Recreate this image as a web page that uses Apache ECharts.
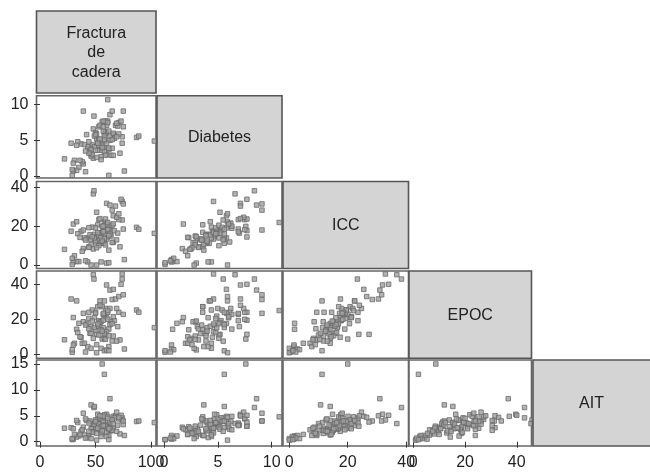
<!DOCTYPE html>
<html>
<head>
<meta charset="utf-8">
<script src="https://cdn.jsdelivr.net/npm/echarts@6/dist/echarts.min.js"></script>
<style>
html,body{margin:0;padding:0;background:#fff;}
#chart{width:650px;height:473px;}
</style>
</head>
<body>
<div id="chart"></div>
<script>
// ---- Data (one value per observation) ----
const varNames = ['Fractura\nde\ncadera', 'Diabetes', 'ICC', 'EPOC', 'AIT'];

const fractura = [74,48,48.6,74,60,63,66,28,58,65,68,54,52,59,47,63,56,61,50,44,71,60,53,58,49,64,42,55,39,67,35,33,57,46,52,70,62,56,59,51,37,45,60,66,53,48,38,55,31,43,30,29,62,58,72,58,40,65,50,54,44,57,75,69,60,46,51,103,61,46,49,53,55,57,52,58,61,50,56,63,47,59,54,65,44,62,51,57,66,41,34,36,87,89,73,71,30,33,22,69,76,29,41,62,75,39];
const diabetes = [4.6,6.6,8.4,5.5,7.1,8.6,5.8,4.6,5.9,9.1,7.1,4.2,3.6,6.2,4.4,5.0,3.6,7.7,6.1,3.6,7.5,6.0,6.9,4.9,4.1,2.9,5.8,2.7,1.7,5.3,1.2,0.8,4.0,3.1,4.7,7.0,6.3,7.6,7.7,5.2,4.5,3.9,4.6,2.9,5.1,2.5,2.0,4.4,2.2,4.1,0.7,0.1,3.7,5.6,3.2,5.1,4.4,3.9,3.6,5.2,4.8,6.3,6.9,7.4,3.0,2.8,5.9,4.9,10.7,3.7,5.6,4.3,2.3,7.7,4.6,3.4,7.5,5.8,4.0,5.6,3.0,2.9,7.1,5.1,3.2,3.9,2.6,6.9,6.0,3.5,4.8,2.2,5.4,5.6,7.7,5.9,1.8,4.3,2.4,5.5,0.7,0.9,0.6,0.1,9.1,9.1];
const icc = [32.9,36.8,38.4,23.3,31.9,31,25.5,17.5,22.3,28.4,30.5,11.2,20.8,21.7,19.6,17.9,16.9,14.5,11.9,9.4,23.5,20.8,23.5,17.6,15.9,15,14,11.6,8.5,17.7,1.8,1.8,11.4,13.1,14.8,16.5,19,20,23.8,27.3,17.4,15.7,13.4,11.7,10,8.3,7.1,1.6,4.8,1.6,1.6,0.3,7.7,11.2,9.4,14,14,11.7,12.6,16.5,19.3,20.1,18.6,24.7,1.0,0,0,16.4,22,10.7,14,15.5,14.2,17.8,16.8,13.6,18.3,19.2,12.4,16,14.7,10.4,24,20.6,9.1,15.2,8.9,17.2,21.3,12.9,16.2,14.3,19.5,18.5,34,26.5,21.2,22.4,8.1,13,2.8,3.5,2.2,1.2,31.6,18.1];
const epoc = [45.9,45.5,43,43,39.6,36.7,37.1,31.6,30.5,31.3,31.6,30.5,27.2,26.2,25.3,26.2,27.2,24,24,24,24,20.9,19.2,21.8,20.9,18.6,17.6,18.6,18.6,19.2,17.7,14.3,15.2,15.8,16.4,15.8,14.4,8.7,11.4,11.4,9.7,12,12.9,10.4,11,9.1,6.3,3.4,6.3,4.4,5.3,1.1,4.4,2,8.2,9.1,6.3,7.6,13.9,18.2,20.5,22.8,22.8,26.2,2.5,3.4,0.9,15.2,25,12,15.3,16,14,19.5,17.3,11.8,20,23.5,13.2,17,19,8.5,28,17.5,14.6,10.6,5.5,23.3,21.5,16.7,12.4,10,25.3,24,40,33,21,30.5,8.3,7.5,3,2.6,1.3,2,34,23.4];
const ait = [4.2,3.5,6.6,4.6,5.3,8.3,4.9,2.7,3.1,4.0,5.0,2.2,4.3,3.9,2.6,3.4,4.8,3.0,2.4,1.2,4.4,2.9,3.6,5.2,3.3,2.1,4.1,1.6,2.8,4.6,1.1,0.9,3.7,2.5,5.3,3.2,2.3,15,3.0,3.8,2.0,4.0,1.7,2.6,3.5,1.9,2.3,1.0,1.4,0.8,0.5,0.4,1.2,13,1.5,2.8,1.3,2.2,4.2,2.4,3.6,4.9,3.3,5.7,1.0,0.6,0.3,3.7,4.8,7.1,6.8,3.4,2.9,3.8,2.6,3.2,4.5,3.9,2.1,2.7,1.8,3.0,5.0,4.2,2.0,2.5,1.6,3.1,3.5,4.4,3.7,1.4,3.9,4.0,5.1,4.7,2.5,4.1,2.6,2.0,1.2,0.6,0.7,0.4,4.0,5.5];

// tick labels per variable
const ticksFractura = [0, 50, 100];
const ticksDiabetes = [0, 5, 10];
const ticksICC = [0, 20, 40];
const ticksEPOC = [0, 20, 40];
const ticksAIT = [0, 5, 10, 15];

// ---- Layout (pixels) ----
const vars = [fractura, diabetes, icc, epoc, ait];
const ticks = [ticksFractura, ticksDiabetes, ticksICC, ticksEPOC, ticksAIT];
const colL = [36.5, 157, 283, 409, 533];
const colR = [156, 282, 408.5, 531.5, 651];
const rowT = [11, 95.7, 181.5, 271, 360];
const rowB = [93, 178, 268.5, 358.3, 446];
// axis extents matching the reference scales
const xRange = [[-3.2, 104.5], [-0.65, 10.96], [-2.16, 40.8], [-1.66, 45.7]];
const yRange = [null, [-0.28, 11.26], [-1.8, 43.2], [-2.3, 47.6], [-0.83, 15.77]];

const FONT = 'Liberation Sans, Arial, sans-serif';
const grids = [], xAxes = [], yAxes = [], series = [], graphics = [];
let gi = 0;
for (let r = 1; r < 5; r++) {
  for (let c = 0; c < r; c++) {
    grids.push({
      left: colL[c], top: rowT[r],
      width: colR[c] - colL[c], height: rowB[r] - rowT[r],
      show: true, backgroundColor: '#fff', borderColor: '#666', borderWidth: 1.6,
      containLabel: false
    });
    const bottom = (r === 4);
    const leftCol = (c === 0);
    xAxes.push({
      type: 'value', gridIndex: gi, min: xRange[c][0], max: xRange[c][1],
      axisLine: {show: false}, splitLine: {show: false},
      axisTick: {show: bottom, length: 6, lineStyle: {color: '#333', width: 1}, customValues: ticks[c]},
      axisLabel: {show: bottom, customValues: ticks[c], margin: 9, fontSize: 16, color: '#222', fontFamily: FONT}
    });
    yAxes.push({
      type: 'value', gridIndex: gi, min: yRange[r][0], max: yRange[r][1],
      axisLine: {show: false}, splitLine: {show: false},
      axisTick: {show: leftCol, length: 6, lineStyle: {color: '#333', width: 1}, customValues: ticks[r]},
      axisLabel: {show: leftCol, customValues: ticks[r], margin: 8, fontSize: 16, color: '#222', fontFamily: FONT}
    });
    const pts = vars[c].map((v, i) => [v, vars[r][i]]);
    series.push({
      type: 'scatter', xAxisIndex: gi, yAxisIndex: gi, data: pts,
      symbol: 'rect', symbolSize: 4.5, clip: false,
      itemStyle: {color: '#a0a0a0', borderColor: '#6a6a6a', borderWidth: 1},
      silent: true, animation: false
    });
    gi++;
  }
}
for (let k = 0; k < 5; k++) {
  graphics.push({
    type: 'rect', shape: {x: colL[k], y: rowT[k], width: colR[k] - colL[k], height: rowB[k] - rowT[k]},
    style: {fill: '#d4d4d4', stroke: '#555', lineWidth: 1.6}, z: 10
  });
  graphics.push({
    type: 'text', x: (colL[k] + Math.min(colR[k], 650)) / 2, y: (rowT[k] + rowB[k]) / 2 + 1,
    style: {text: varNames[k], fill: '#222', font: '16px ' + FONT, align: 'center', verticalAlign: 'middle', lineHeight: 19.5},
    z: 11
  });
}

const chart = echarts.init(document.getElementById('chart'), null, {renderer: 'canvas'});
chart.setOption({
  animation: false,
  backgroundColor: '#fff',
  grid: grids, xAxis: xAxes, yAxis: yAxes, series: series,
  graphic: graphics
});
</script>
</body>
</html>
